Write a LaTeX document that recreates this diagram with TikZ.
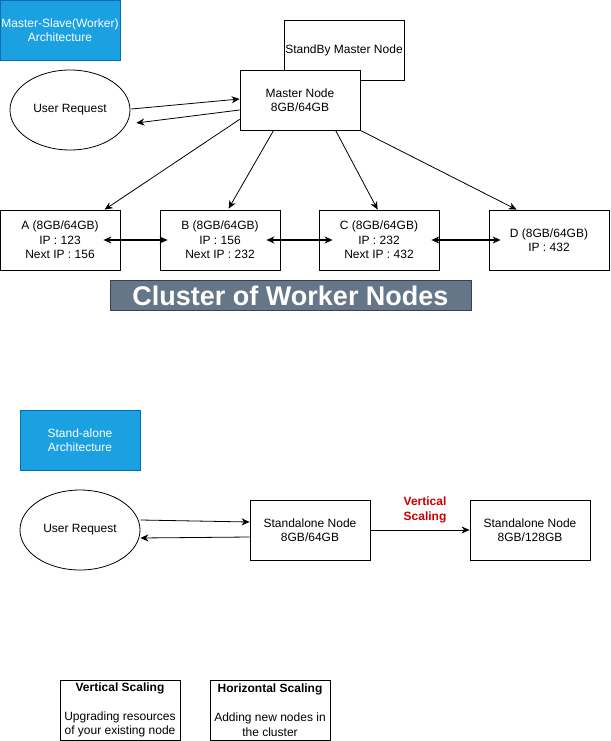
\documentclass[tikz,border=0pt]{standalone}
\usepackage{fontspec}
\setmainfont{Liberation Sans}
\usetikzlibrary{arrows.meta,calc,shapes.geometric}
\definecolor{bluefill}{HTML}{1BA1E2}
\definecolor{bluedraw}{HTML}{006EAF}
\definecolor{banfill}{HTML}{647687}
\definecolor{bandraw}{HTML}{314354}
\definecolor{redtxt}{HTML}{CC0000}
\tikzset{
  base/.style={inner sep=0pt, align=center, font=\fontsize{12}{14.5}\selectfont},
  boxnode/.style={base, draw=black, fill=white, line width=0.8pt, minimum width=120pt, minimum height=60pt},
  bluebox/.style={base, draw=bluedraw, fill=bluefill, text=white, line width=0.8pt, minimum width=120pt, minimum height=60pt},
  ellnode/.style={base, draw=black, ellipse, line width=0.8pt, minimum width=120pt, minimum height=80pt},
  arr/.style={draw=black, line width=0.8pt, -{Stealth[length=8pt,width=7pt,inset=2.5pt]}},
  darr/.style={draw=black, line width=1.1pt, {Stealth[length=8pt,width=7pt,inset=2.5pt]}-{Stealth[length=8pt,width=7pt,inset=2.5pt]}},
}
\begin{document}
\begin{tikzpicture}[x=1pt,y=-1pt]
\useasboundingbox (0,0) rectangle (610,741);
% Top section
\node[bluebox] (title1) at (60,30) {Master-Slave(Worker)\\Architecture};
\node[boxnode] (standby) at (344,50) {StandBy Master Node};
\node[boxnode] (master) at (300,100) {Master Node\\8GB/64GB};
\node[ellnode] (user1) at (70,110) {User Request};
\node[boxnode] (A) at (60,240) {A (8GB/64GB)\\IP : 123\\Next IP : 156};
\node[boxnode] (B) at (220,240) {B (8GB/64GB)\\IP : 156\\Next IP : 232};
\node[boxnode] (C) at (379,240) {C (8GB/64GB)\\IP : 232\\Next IP : 432};
\node[boxnode] (D) at (549,240) {D (8GB/64GB)\\IP : 432};
\node[base, draw=bandraw, fill=banfill, text=white, line width=0.8pt, minimum width=361pt, minimum height=30pt, font=\fontsize{27}{30}\selectfont\bfseries] (banner) at (290.5,295.5) {Cluster of Worker Nodes};
% top arrows
\draw[arr] ($(user1.east)+(1,-1)$) -- ($(master.west)+(0,-1)$);
\draw[arr] ($(master.west)+(0,10)$) -- ($(user1.east)+(6,13)$);
\draw[arr] ($(master.south west)+(0,-11)$) -- ($(A.north west)+(105,0)$);
\draw[arr] ($(master.south west)+(34,0)$) -- ($(B.north west)+(69,-1)$);
\draw[arr] ($(master.south west)+(96,0)$) -- ($(C.north west)+(59,0)$);
\draw[arr] (master.south east) -- ($(D.north west)+(28,0)$);
\draw[darr] ($(A.east)+(-17,0)$) -- ($(B.west)+(8,0)$);
\draw[darr] ($(B.east)+(-14,0)$) -- ($(C.west)+(14,0)$);
\draw[darr] ($(C.east)+(-8,0)$) -- ($(D.west)+(12,0)$);
% Standalone section
\node[bluebox] (title2) at (80,440) {Stand-alone\\Architecture};
\node[ellnode] (user2) at (80,530) {User Request};
\node[boxnode] (sa1) at (310,530) {Standalone Node\\8GB/64GB};
\node[boxnode] (sa2) at (530,530) {Standalone Node\\8GB/128GB};
\draw[arr] ($(user2.east)+(0,-10)$) -- ($(sa1.west)+(0,-8)$);
\draw[arr] ($(sa1.west)+(0,7)$) -- ($(user2.east)+(0,8)$);
\draw[arr] (sa1.east) -- (sa2.west);
\node[base, text=redtxt, font=\fontsize{12}{14.5}\selectfont\bfseries] (vslabel) at (425,510) {Vertical\\Scaling};
% Legend
\node[boxnode] (legv) at (120,710) {\textbf{Vertical Scaling}\\[14.5pt]Upgrading resources\\of your existing node};
\node[boxnode] (legh) at (270,710) {\textbf{Horizontal Scaling}\\[14.5pt]Adding new nodes in\\the cluster};
\end{tikzpicture}
\end{document}
